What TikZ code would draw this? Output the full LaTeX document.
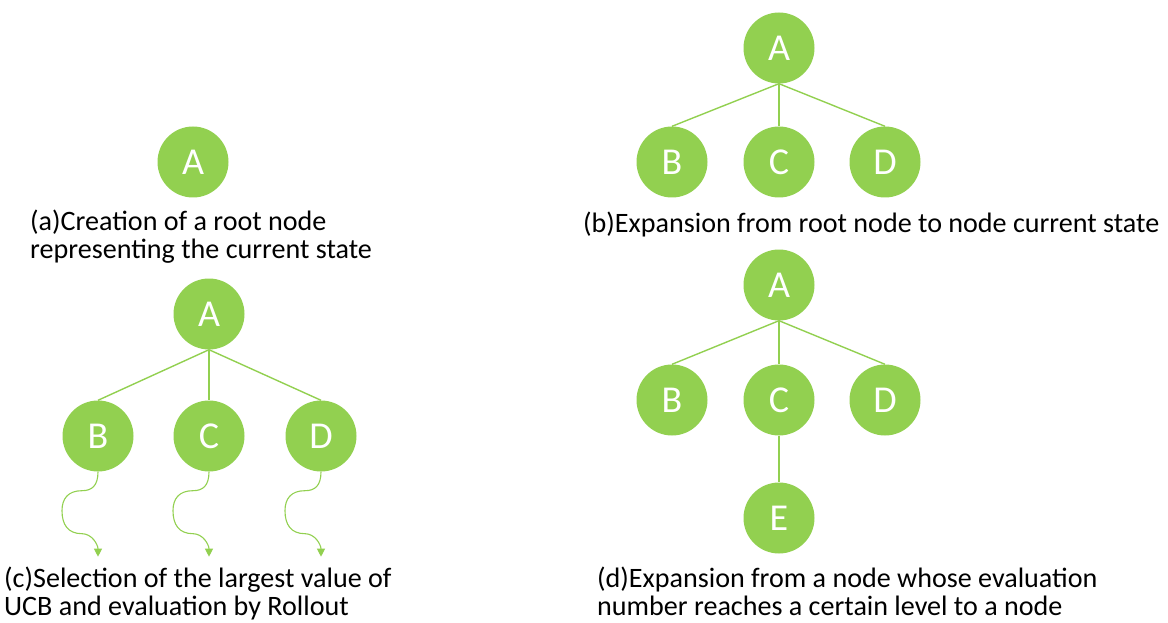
\documentclass[tikz,border=0pt]{standalone}
\usepackage{fontspec}
\setmainfont{Carlito}
\usetikzlibrary{arrows.meta}
\definecolor{leaf}{HTML}{92D050}
\tikzset{
  tnode/.style={circle, fill=leaf, minimum size=71pt, inner sep=0pt,
    text=white, font=\fontsize{38}{38}\selectfont},
  edge/.style={draw=leaf, line width=1.4pt},
  roll/.style={draw=leaf, line width=1.1pt, -{Triangle[length=8pt,width=8pt]}},
  % base anchor of a two-line caption sits on its last line
  caption/.style={anchor=base west, align=left, inner sep=0pt,
    font=\fontsize{28.1}{28}\selectfont}
}
\begin{document}
\begin{tikzpicture}[x=1pt,y=-1pt]
\useasboundingbox (0,0) rectangle (1168,623);
% (a) root only
\node[tnode] (a1) at (193,162) {A};
\node[caption] (acap) at (30,258) {(a)Creation of a root node\\representing the current state};
% (b) root expanded
\node[tnode] (bA) at (779,48) {A};
\node[tnode] (bB) at (672,162) {B};
\node[tnode] (bC) at (779,162) {C};
\node[tnode] (bD) at (885,162) {D};
\foreach \c in {bB,bC,bD} \draw[edge] (bA.south) -- (\c.north);
\node[caption] (bcap) at (583,233) {(b)Expansion from root node to node current state};
% (c) selection and rollout
\node[tnode] (cA) at (209,314) {A};
\node[tnode] (cB) at (98,436) {B};
\node[tnode] (cC) at (209,436) {C};
\node[tnode] (cD) at (321,436) {D};
\foreach \c in {cB,cC,cD} \draw[edge] (cA.south) -- (\c.north);
\foreach \c in {cB,cC,cD} {
  \coordinate (\c-r1) at ([shift={(-16,19)}]\c.south);
  \coordinate (\c-r2) at ([shift={(-36,39)}]\c.south);
  \coordinate (\c-r3) at ([shift={(-16,62)}]\c.south);
  \coordinate (\c-end) at ([shift={(0,85)}]\c.south);
  \draw[roll] (\c.south) .. controls +(0,14) and +(10,0) .. (\c-r1)
     .. controls +(-14,0) and +(0,-12) .. (\c-r2)
     .. controls +(0,14) and +(-14,0) .. (\c-r3)
     .. controls +(10,0) and +(0,-12) .. (\c-end);
}
\node[caption] (ccap) at (4,615) {(c)Selection of the largest value of\\UCB and evaluation by Rollout};
% (d) expansion below C
\node[tnode] (dA) at (779,285) {A};
\node[tnode] (dB) at (672,400) {B};
\node[tnode] (dC) at (779,400) {C};
\node[tnode] (dD) at (885,400) {D};
\node[tnode] (dE) at (779,518) {E};
\foreach \c in {dB,dC,dD} \draw[edge] (dA.south) -- (\c.north);
\draw[edge] (dC.south) -- (dE.north);
\node[caption] (dcap) at (597,615) {(d)Expansion from a node whose evaluation\\number reaches a certain level to a node};
\end{tikzpicture}
\end{document}
